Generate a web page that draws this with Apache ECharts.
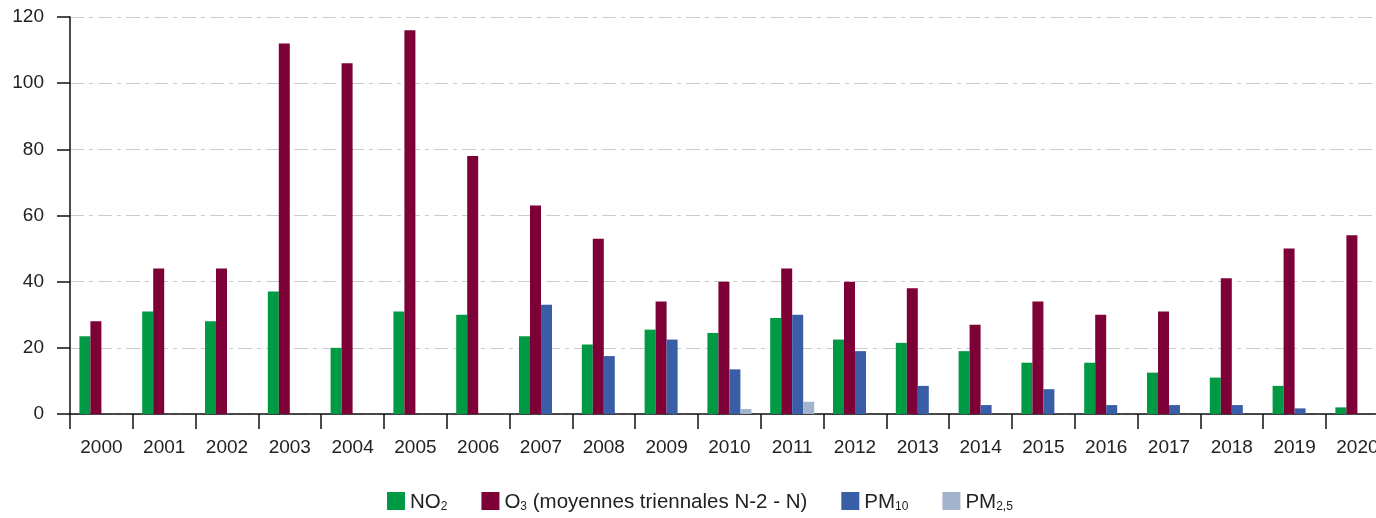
<!DOCTYPE html>
<html>
<head>
<meta charset="utf-8">
<script src="https://cdn.jsdelivr.net/npm/echarts@6/dist/echarts.min.js"></script>
<style>
html,body{margin:0;padding:0;background:#fff;}
#chart{width:1376px;height:518px;}
</style>
</head>
<body>
<div id="chart"></div>
<script>
var years = ['2000','2001','2002','2003','2004','2005','2006','2007','2008','2009','2010','2011','2012','2013','2014','2015','2016','2017','2018','2019','2020'];
var no2  = [23.5, 31, 28, 37, 20, 31, 30, 23.5, 21, 25.5, 24.5, 29, 22.5, 21.5, 19, 15.5, 15.5, 12.5, 11, 8.5, 2];
var o3   = [28, 44, 44, 112, 106, 116, 78, 63, 53, 34, 40, 44, 40, 38, 27, 34, 30, 31, 41, 50, 54];
var pm10 = [null, null, null, null, null, null, null, 33, 17.5, 22.5, 13.5, 30, 19, 8.5, 2.7, 7.5, 2.7, 2.7, 2.7, 1.7, null];
var pm25 = [null, null, null, null, null, null, null, null, null, null, 1.5, 3.7, null, null, null, null, null, null, null, null, null];
var yTicks = [0, 20, 40, 60, 80, 100, 120];

var names = ['NO2', 'O3 (moyennes triennales N-2 - N)', 'PM10', 'PM2,5'];
var legendRich = [
  '{m|NO}{s|2}',
  '{m|O}{s|3}{m| (moyennes triennales N-2 - N)}',
  '{m|PM}{s|10}',
  '{m|PM}{s|2,5}'
];
var colors = ['#009a44', '#7d0037', '#3a5da8', '#a2b3cb'];
var font = 'Liberation Sans, Arial, Helvetica, sans-serif';

var chart = echarts.init(document.getElementById('chart'));
function mk(i, data) {
  return {
    name: names[i], type: 'bar', data: data,
    barWidth: 11, barGap: '0%', barCategoryGap: '30%',
    itemStyle: { color: colors[i] },
    emphasis: { disabled: true }
  };
}
chart.setOption({
  animation: false,
  textStyle: { fontFamily: font },
  grid: { left: 70, top: 17, width: 1318.8, height: 397, containLabel: false, outerBoundsMode: 'none' },
  legend: {
    top: 492, left: 387, padding: 0,
    icon: 'rect', itemWidth: 18, itemHeight: 18, itemGap: 34,
    data: names,
    formatter: function (n) { return legendRich[names.indexOf(n)]; },
    textStyle: {
      color: '#222', fontFamily: font,
      rich: {
        m: { fontSize: 20.5, color: '#222', fontFamily: font, verticalAlign: 'bottom', lineHeight: 24 },
        s: { fontSize: 12, color: '#222', fontFamily: font, verticalAlign: 'bottom', lineHeight: 17 }
      }
    }
  },
  xAxis: {
    type: 'category', data: years,
    boundaryGap: true,
    axisLine: { show: true, lineStyle: { color: '#111', width: 1.5 } },
    axisTick: { show: true, length: 15, alignWithLabel: false, lineStyle: { color: '#111', width: 1.5 } },
    axisLabel: { color: '#222', fontSize: 19, margin: 24, fontFamily: font, interval: 0 },
    splitLine: { show: false }
  },
  yAxis: {
    type: 'value', min: 0, max: 120, interval: 20,
    axisLine: { show: true, lineStyle: { color: '#111', width: 1.5 } },
    axisTick: { show: true, length: 13, lineStyle: { color: '#111', width: 1.5 } },
    axisLabel: { color: '#222', fontSize: 19, margin: 26, fontFamily: font,
      formatter: function (v) { return yTicks.indexOf(v) >= 0 ? String(v) : ''; } },
    splitLine: { show: true, lineStyle: { color: '#cccccc', width: 1, type: [14, 5, 4, 5] } }
  },
  series: [mk(0, no2), mk(1, o3), mk(2, pm10), mk(3, pm25)]
});
</script>
</body>
</html>
